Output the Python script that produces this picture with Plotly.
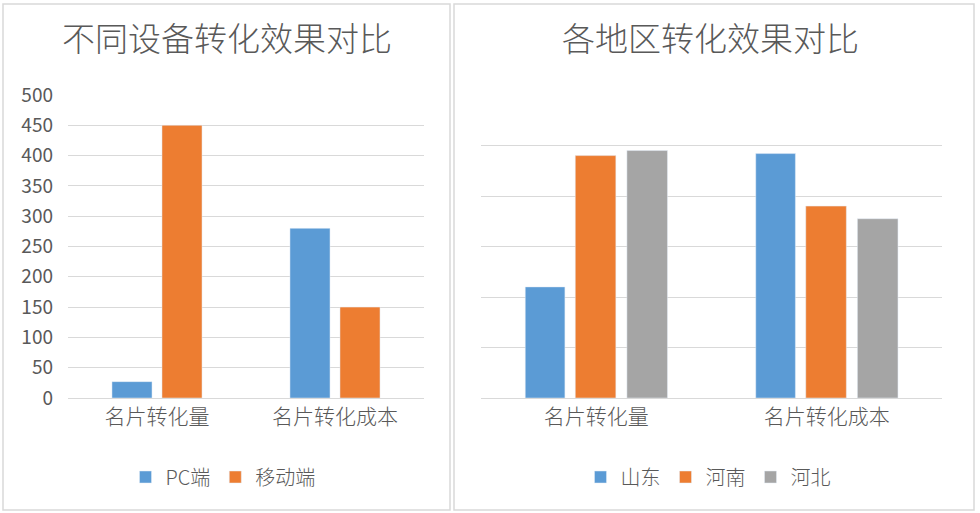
import plotly.graph_objects as go

# left chart: device comparison
categories = ['名片转化量', '名片转化成本']
device_names = ['PC端', '移动端']
pc_values = [27, 280]
mobile_values = [450, 150]

# right chart: region comparison
region_names = ['山东', '河南', '河北']
shandong_values = [22, 48.4]
henan_values = [48, 38]
hebei_values = [49, 35.5]

blue = '#5B9BD5'
orange = '#ED7D31'
gray = '#A5A5A5'
grid = '#D9D9D9'
text_color = '#595959'
font_family = 'Noto Sans CJK SC, Noto Sans, sans-serif'

fig = go.Figure()

# left panel bars
fig.add_trace(go.Bar(x=categories, y=pc_values, name=device_names[0],
                     marker_color=blue, width=0.225, offset=-0.253,
                     xaxis='x', yaxis='y', legend='legend'))
fig.add_trace(go.Bar(x=categories, y=mobile_values, name=device_names[1],
                     marker_color=orange, width=0.225, offset=0.028,
                     xaxis='x', yaxis='y', legend='legend'))

# right panel bars
fig.add_trace(go.Bar(x=categories, y=shandong_values, name=region_names[0],
                     marker_color=blue, width=0.172, offset=-0.308,
                     xaxis='x2', yaxis='y2', legend='legend2'))
fig.add_trace(go.Bar(x=categories, y=henan_values, name=region_names[1],
                     marker_color=orange, width=0.176, offset=-0.091,
                     xaxis='x2', yaxis='y2', legend='legend2'))
fig.add_trace(go.Bar(x=categories, y=hebei_values, name=region_names[2],
                     marker_color=gray, width=0.176, offset=0.133,
                     xaxis='x2', yaxis='y2', legend='legend2'))

y_dom = [115 / 513, 418 / 513]

fig.update_layout(
    width=980, height=513,
    margin=dict(l=0, r=0, t=0, b=0, autoexpand=False),
    paper_bgcolor='white', plot_bgcolor='white',
    font=dict(family=font_family, color=text_color),
    barmode='overlay',
    xaxis=dict(domain=[68 / 980, 424 / 980], anchor='y', showgrid=False,
               showline=False, ticks='', tickfont=dict(size=21, weight=300),
               ticklabelstandoff=4, fixedrange=True),
    yaxis=dict(domain=y_dom, anchor='x', range=[0, 500], dtick=50,
               showgrid=True, gridcolor=grid, gridwidth=1.3,
               zeroline=True, zerolinecolor=grid, zerolinewidth=1.3,
               showline=False, ticks='', tickfont=dict(size=19),
               ticklabelstandoff=14),
    xaxis2=dict(domain=[481 / 980, 942 / 980], anchor='y2', showgrid=False,
                showline=False, ticks='', tickfont=dict(size=21, weight=300),
                ticklabelstandoff=4),
    yaxis2=dict(domain=y_dom, anchor='x2', range=[0, 60], dtick=10,
                showgrid=True, gridcolor=grid, gridwidth=1.3,
                zeroline=True, zerolinecolor=grid, zerolinewidth=1.3,
                showticklabels=False, showline=False, ticks=''),
    legend=dict(orientation='h', x=223 / 980, xanchor='center',
                y=36 / 513, yanchor='middle', font=dict(size=20, weight=300),
                itemwidth=30, bgcolor='rgba(0,0,0,0)'),
    legend2=dict(orientation='h', x=708 / 980, xanchor='center',
                 y=36 / 513, yanchor='middle', font=dict(size=20, weight=300),
                 itemwidth=30, bgcolor='rgba(0,0,0,0)'),
    annotations=[
        dict(text='不同设备转化效果对比', x=227 / 980, y=476 / 513,
             xref='paper', yref='paper', showarrow=False,
             xanchor='center', yanchor='middle',
             font=dict(size=33, color=text_color, weight=300)),
        dict(text='各地区转化效果对比', x=710 / 980, y=476 / 513,
             xref='paper', yref='paper', showarrow=False,
             xanchor='center', yanchor='middle',
             font=dict(size=33, color=text_color, weight=300)),
    ],
    shapes=[
        dict(type='rect', xref='paper', yref='paper',
             x0=3 / 980, x1=450 / 980, y0=3 / 513, y1=509 / 513,
             line=dict(color=grid, width=1.5)),
        dict(type='rect', xref='paper', yref='paper',
             x0=454 / 980, x1=974 / 980, y0=3 / 513, y1=509 / 513,
             line=dict(color=grid, width=1.5)),
    ],
)

# drop the page's default body margin so the figure sits at the window corner
fig.write_html('out.html', config={'displayModeBar': False},
               post_script="document.body.style.margin = '0';")
